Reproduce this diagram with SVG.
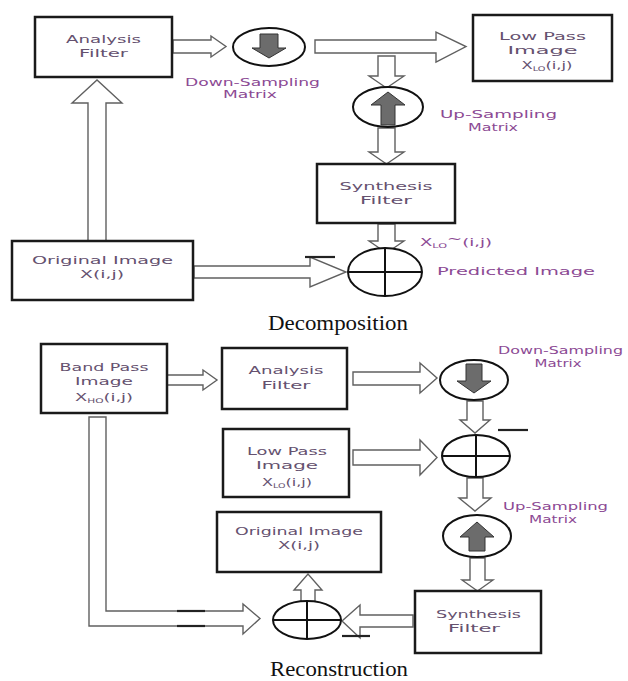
<svg xmlns="http://www.w3.org/2000/svg" width="628" height="681" viewBox="0 0 628 681">
  <defs>
    <style>
      .box { fill: #ffffff; stroke: #1a1a1a; stroke-width: 2.5; }
      .hollow { fill: #ffffff; stroke: #606060; stroke-width: 1.4; stroke-linejoin: miter; }
      .node-ring { fill: #ffffff; stroke: #111111; stroke-width: 2; }
      .cross { stroke: #111111; stroke-width: 2; }
      .solid { fill: #6c6c6c; stroke: #333333; stroke-width: 1; }
      .minus { stroke: #222222; stroke-width: 2.2; }
      .lbl { font-family: "DejaVu Sans", Verdana, sans-serif; font-size: 11px; fill: #65516f; text-anchor: middle; }
      .note { font-family: "DejaVu Sans", Verdana, sans-serif; font-size: 10.5px; fill: #8c4a94; }
      .sub { font-size: 6.5px; }
      .caption { font-family: "Liberation Serif", "Times New Roman", serif; font-size: 22px; fill: #111111; }
    </style>
  </defs>

  <rect width="628" height="681" fill="#ffffff"/>

  <!-- ===== Decomposition ===== -->
  <g id="connectors-decomposition">
    <!-- analysis filter to down-sampling -->
    <polygon class="hollow" points="173,40 211,40 211,36 226,46.5 211,57 211,53 173,53"/>
    <!-- down-sampling to low pass image -->
    <polygon class="hollow" points="315,40 436,40 436,32 466,46.5 436,62 436,53 315,53"/>
    <!-- branch down to up-sampling -->
    <polygon class="hollow" points="378,56 395,56 395,76 404,76 386.5,88 369,76 378,76"/>
    <!-- up-sampling to synthesis filter -->
    <polygon class="hollow" points="378,128 395,128 395,152 404,152 386.5,164 369,152 378,152"/>
    <!-- synthesis filter to predictor sum -->
    <polygon class="hollow" points="378,224 395,224 395,241 404,241 386.5,253 369,241 378,241"/>
    <!-- original image to predictor sum -->
    <polygon class="hollow" points="194,266 310,266 310,257 346,272 310,287 310,278 194,278"/>
    <!-- original image up to analysis filter -->
    <polygon class="hollow" points="88,241 88,103 72,103 97,80 122,103 106,103 106,241"/>
    <line class="minus" x1="305" y1="257" x2="335" y2="257"/>
  </g>

  <g id="analysis-filter-1">
    <rect class="box" x="35" y="17" width="137" height="60"/>
    <text class="lbl" x="103.5" y="43" textLength="75" lengthAdjust="spacingAndGlyphs">Analysis</text>
    <text class="lbl" x="103.5" y="57" textLength="49" lengthAdjust="spacingAndGlyphs">Filter</text>
  </g>

  <g id="down-sampling-1">
    <ellipse class="node-ring" cx="269" cy="47" rx="36" ry="19"/>
    <polygon class="solid" points="260,34 278,34 278,48 286,48 269,58 252,48 260,48"/>
    <text class="note" x="185" y="86" textLength="135" lengthAdjust="spacingAndGlyphs">Down-Sampling</text>
    <text class="note" x="250" y="98" text-anchor="middle" textLength="54" lengthAdjust="spacingAndGlyphs">Matrix</text>
  </g>

  <g id="low-pass-image-1">
    <rect class="box" x="473" y="15" width="139" height="66"/>
    <text class="lbl" x="542.5" y="40" textLength="87" lengthAdjust="spacingAndGlyphs">Low Pass</text>
    <text class="lbl" x="542.5" y="54" textLength="70" lengthAdjust="spacingAndGlyphs">Image</text>
    <text class="lbl" x="547" y="69" textLength="51" lengthAdjust="spacingAndGlyphs">X<tspan class="sub" dy="2">LO</tspan><tspan dy="-2">(i,j)</tspan></text>
  </g>

  <g id="up-sampling-1">
    <ellipse class="node-ring" cx="388" cy="107" rx="35" ry="20"/>
    <polygon class="solid" points="388,92 405,105 395,105 395,125 381,125 381,105 371,105"/>
    <text class="note" x="440" y="118" textLength="117" lengthAdjust="spacingAndGlyphs">Up-Sampling</text>
    <text class="note" x="493" y="131" text-anchor="middle" textLength="50" lengthAdjust="spacingAndGlyphs">Matrix</text>
  </g>

  <g id="synthesis-filter-1">
    <rect class="box" x="317" y="164" width="138" height="59"/>
    <text class="lbl" x="386" y="190" textLength="93" lengthAdjust="spacingAndGlyphs">Synthesis</text>
    <text class="lbl" x="386" y="204" textLength="52" lengthAdjust="spacingAndGlyphs">Filter</text>
  </g>

  <g id="predicted-image-sum">
    <ellipse class="node-ring" cx="385" cy="272" rx="37" ry="24"/>
    <line class="cross" x1="385" y1="248" x2="385" y2="296"/>
    <line class="cross" x1="348" y1="272" x2="422" y2="272"/>
    <text class="note" x="420" y="246" textLength="72" lengthAdjust="spacingAndGlyphs">X<tspan class="sub" dy="2">LO</tspan><tspan dy="-5">~</tspan><tspan dy="3">(i,j)</tspan></text>
    <text class="note" x="437" y="275" textLength="158" lengthAdjust="spacingAndGlyphs">Predicted Image</text>
  </g>

  <g id="original-image-1">
    <rect class="box" x="12" y="241" width="181" height="59"/>
    <text class="lbl" x="102.5" y="264" textLength="141" lengthAdjust="spacingAndGlyphs">Original Image</text>
    <text class="lbl" x="102" y="278" textLength="44" lengthAdjust="spacingAndGlyphs">X(i,j)</text>
  </g>

  <text class="caption" x="268" y="330" textLength="140" lengthAdjust="spacingAndGlyphs">Decomposition</text>

  <!-- ===== Reconstruction ===== -->
  <g id="connectors-reconstruction">
    <!-- band pass to analysis filter -->
    <polygon class="hollow" points="167,375 203,375 203,370 217,380 203,390 203,385 167,385"/>
    <!-- analysis filter to down-sampling -->
    <polygon class="hollow" points="353,372 420,372 420,363 437,378 420,393 420,385 353,385"/>
    <!-- down-sampling to difference node -->
    <polygon class="hollow" points="467,401 483,401 483,420 490,420 475,433 460,420 467,420"/>
    <!-- low pass image to difference node -->
    <polygon class="hollow" points="353,450 420,450 420,440 437,457.5 420,475 420,465 353,465"/>
    <!-- difference node to up-sampling -->
    <polygon class="hollow" points="467,478 483,478 483,498 491,498 475,511 459,498 467,498"/>
    <!-- up-sampling to synthesis filter -->
    <polygon class="hollow" points="470,558 485,558 485,580 493,580 477.5,591 462,580 470,580"/>
    <!-- synthesis filter to output sum -->
    <polygon class="hollow" points="413,615 360,615 360,605 342,621 360,638 360,627 413,627"/>
    <!-- output sum up to original image -->
    <polygon class="hollow" points="301,602 301,590 294,590 308,574 322,590 315,590 315,602"/>
    <!-- band pass image down and across to output sum -->
    <polygon class="hollow" points="89,417 106,417 106,611 243,611 243,604 260,618.5 243,634 243,626 89,626"/>
    <line class="minus" x1="177" y1="611" x2="205" y2="611"/>
    <line class="minus" x1="177" y1="626" x2="205" y2="626"/>
    <line class="minus" x1="498" y1="430" x2="528" y2="430"/>
    <line class="minus" x1="342" y1="636" x2="370" y2="636"/>
  </g>

  <g id="band-pass-image">
    <rect class="box" x="41" y="344" width="126" height="69"/>
    <text class="lbl" x="104" y="371" textLength="89" lengthAdjust="spacingAndGlyphs">Band Pass</text>
    <text class="lbl" x="104" y="385" textLength="58" lengthAdjust="spacingAndGlyphs">Image</text>
    <text class="lbl" x="104" y="401" textLength="58" lengthAdjust="spacingAndGlyphs">X<tspan class="sub" dy="2">HO</tspan><tspan dy="-2">(i,j)</tspan></text>
  </g>

  <g id="analysis-filter-2">
    <rect class="box" x="222" y="348" width="125" height="61"/>
    <text class="lbl" x="286" y="374" textLength="75" lengthAdjust="spacingAndGlyphs">Analysis</text>
    <text class="lbl" x="286" y="389" textLength="49" lengthAdjust="spacingAndGlyphs">Filter</text>
  </g>

  <g id="down-sampling-2">
    <ellipse class="node-ring" cx="474" cy="380" rx="34" ry="20"/>
    <polygon class="solid" points="466,364 482,364 482,381 491,381 474,393 457,381 466,381"/>
    <text class="note" x="498" y="354" textLength="125" lengthAdjust="spacingAndGlyphs">Down-Sampling</text>
    <text class="note" x="558" y="367" text-anchor="middle" textLength="47" lengthAdjust="spacingAndGlyphs">Matrix</text>
  </g>

  <g id="low-pass-image-2">
    <rect class="box" x="223" y="429" width="126" height="68"/>
    <text class="lbl" x="287" y="455" textLength="80" lengthAdjust="spacingAndGlyphs">Low Pass</text>
    <text class="lbl" x="287" y="469" textLength="62" lengthAdjust="spacingAndGlyphs">Image</text>
    <text class="lbl" x="287" y="486" textLength="50" lengthAdjust="spacingAndGlyphs">X<tspan class="sub" dy="2">LO</tspan><tspan dy="-2">(i,j)</tspan></text>
  </g>

  <g id="difference-sum">
    <ellipse class="node-ring" cx="476" cy="456" rx="34" ry="21"/>
    <line class="cross" x1="476" y1="435" x2="476" y2="477"/>
    <line class="cross" x1="442" y1="456" x2="510" y2="456"/>
  </g>

  <g id="up-sampling-2">
    <ellipse class="node-ring" cx="477" cy="536" rx="34" ry="21"/>
    <polygon class="solid" points="477,522 494,537 485,537 485,551 469,551 469,537 460,537"/>
    <text class="note" x="503" y="510" textLength="105" lengthAdjust="spacingAndGlyphs">Up-Sampling</text>
    <text class="note" x="553" y="523" text-anchor="middle" textLength="48" lengthAdjust="spacingAndGlyphs">Matrix</text>
  </g>

  <g id="synthesis-filter-2">
    <rect class="box" x="415" y="591" width="126" height="62"/>
    <text class="lbl" x="478.5" y="618" textLength="85" lengthAdjust="spacingAndGlyphs">Synthesis</text>
    <text class="lbl" x="474" y="632" textLength="52" lengthAdjust="spacingAndGlyphs">Filter</text>
  </g>

  <g id="output-sum">
    <ellipse class="node-ring" cx="307" cy="620" rx="34" ry="19"/>
    <line class="cross" x1="307" y1="601" x2="307" y2="639"/>
    <line class="cross" x1="273" y1="620" x2="341" y2="620"/>
  </g>

  <g id="original-image-2">
    <rect class="box" x="217" y="512" width="164" height="60"/>
    <text class="lbl" x="299" y="535" textLength="128" lengthAdjust="spacingAndGlyphs">Original Image</text>
    <text class="lbl" x="299" y="549" textLength="42" lengthAdjust="spacingAndGlyphs">X(i,j)</text>
  </g>

  <text class="caption" x="270" y="676" textLength="138" lengthAdjust="spacingAndGlyphs">Reconstruction</text>
</svg>
